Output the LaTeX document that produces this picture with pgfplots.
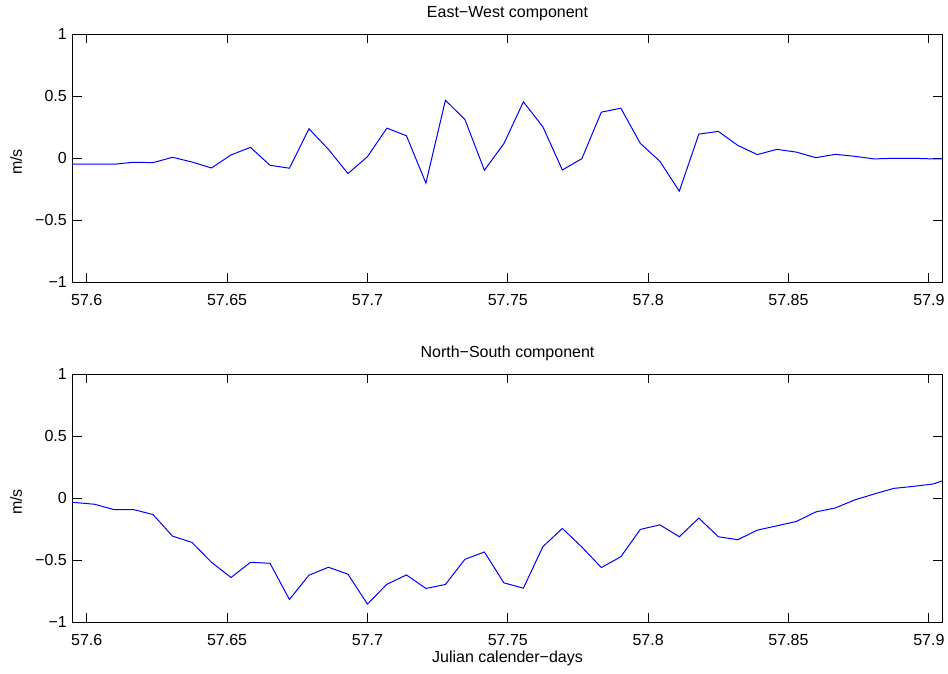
\documentclass[border=0pt]{standalone}
\usepackage{fontspec}
\setmainfont{Liberation Sans}
\usepackage{pgfplots}
\pgfplotsset{compat=1.18}

\definecolor{mblue}{rgb}{0,0,1}

\pgfplotsset{
  mstyle/.style={
    scale only axis,
    width=869.6pt, height=248pt,
    anchor=north west,
    xmin=57.595, xmax=57.9048,
    ymin=-1, ymax=1,
    xtick={57.6,57.65,57.7,57.75,57.8,57.85,57.9},
    xticklabels={57.6,57.65,57.7,57.75,57.8,57.85,57.9},
    ytick={-1,-0.5,0,0.5,1},
    yticklabels={−1,−0.5,0,0.5,1},
    xtick pos=both, ytick pos=both,
    xticklabel pos=bottom, yticklabel pos=left,
    tick align=inside,
    major tick length=9pt,
    every tick/.style={black, line width=0.8pt},
    axis line style={line width=1.1pt},
    tick label style={font=\fontsize{16}{19}\selectfont},
    xticklabel style={inner sep=0pt, anchor=north, yshift=-11.7pt},
    yticklabel style={inner sep=0pt, anchor=east, xshift=-5.7pt},
    label style={font=\fontsize{16}{19}\selectfont},
    ylabel style={at={(axis description cs:-0.0583,0.485)}, anchor=base, inner sep=0pt},
    title style={font=\fontsize{16}{19}\selectfont, at={(axis description cs:0.5,1.042)}, anchor=base, inner sep=0pt},
    xlabel style={at={(axis description cs:0.5,-0.164)}, anchor=base, inner sep=0pt},
    ylabel={m/s},
  }
}

\begin{document}
\begin{tikzpicture}
\useasboundingbox (0pt,0pt) rectangle (948pt,673pt);

% East-West
\begin{axis}[mstyle, at={(72.7pt,638.7pt)}, title={East−West component}]
\addplot[mblue, line width=1pt] coordinates {
(57.58889,-0.048) (57.59583,-0.048) (57.60278,-0.048) (57.60972,-0.048)
(57.61667,-0.032) (57.62361,-0.035) (57.63056,0.008) (57.63750,-0.030)
(57.64444,-0.078) (57.65139,0.027) (57.65833,0.088) (57.66528,-0.056)
(57.67222,-0.080) (57.67917,0.238) (57.68611,0.072) (57.69306,-0.123)
(57.70000,0.013) (57.70694,0.243) (57.71389,0.182) (57.72083,-0.200)
(57.72778,0.468) (57.73472,0.313) (57.74167,-0.096) (57.74861,0.118)
(57.75556,0.455) (57.76250,0.254) (57.76944,-0.094) (57.77639,-0.003)
(57.78333,0.372) (57.79028,0.404) (57.79722,0.120) (57.80417,-0.024)
(57.81111,-0.265) (57.81806,0.195) (57.82500,0.217) (57.83194,0.104)
(57.83889,0.030) (57.84583,0.072) (57.85278,0.050) (57.85972,0.005)
(57.86667,0.032) (57.87361,0.016) (57.88056,-0.005) (57.88750,0.000)
(57.89444,0.000) (57.90139,-0.005) (57.90833,-0.002)
};
\end{axis}

% North-South
\begin{axis}[mstyle, at={(72.7pt,298.7pt)}, title={North−South component},
  xlabel={Julian calender−days}]
\addplot[mblue, line width=1pt] coordinates {
(57.58889,-0.030) (57.59583,-0.034) (57.60278,-0.048) (57.60972,-0.091)
(57.61667,-0.091) (57.62361,-0.131) (57.63056,-0.305) (57.63750,-0.356)
(57.64444,-0.516) (57.65139,-0.639) (57.65833,-0.516) (57.66528,-0.524)
(57.67222,-0.816) (57.67917,-0.620) (57.68611,-0.556) (57.69306,-0.612)
(57.70000,-0.853) (57.70694,-0.693) (57.71389,-0.618) (57.72083,-0.727)
(57.72778,-0.695) (57.73472,-0.492) (57.74167,-0.433) (57.74861,-0.682)
(57.75556,-0.725) (57.76250,-0.390) (57.76944,-0.243) (57.77639,-0.393)
(57.78333,-0.559) (57.79028,-0.471) (57.79722,-0.251) (57.80417,-0.214)
(57.81111,-0.310) (57.81806,-0.160) (57.82500,-0.310) (57.83194,-0.334)
(57.83889,-0.257) (57.84583,-0.222) (57.85278,-0.187) (57.85972,-0.110)
(57.86667,-0.078) (57.87361,-0.013) (57.88056,0.035) (57.88750,0.080)
(57.89444,0.096) (57.90139,0.115) (57.90833,0.166)
};
\end{axis}
\end{tikzpicture}
\end{document}
